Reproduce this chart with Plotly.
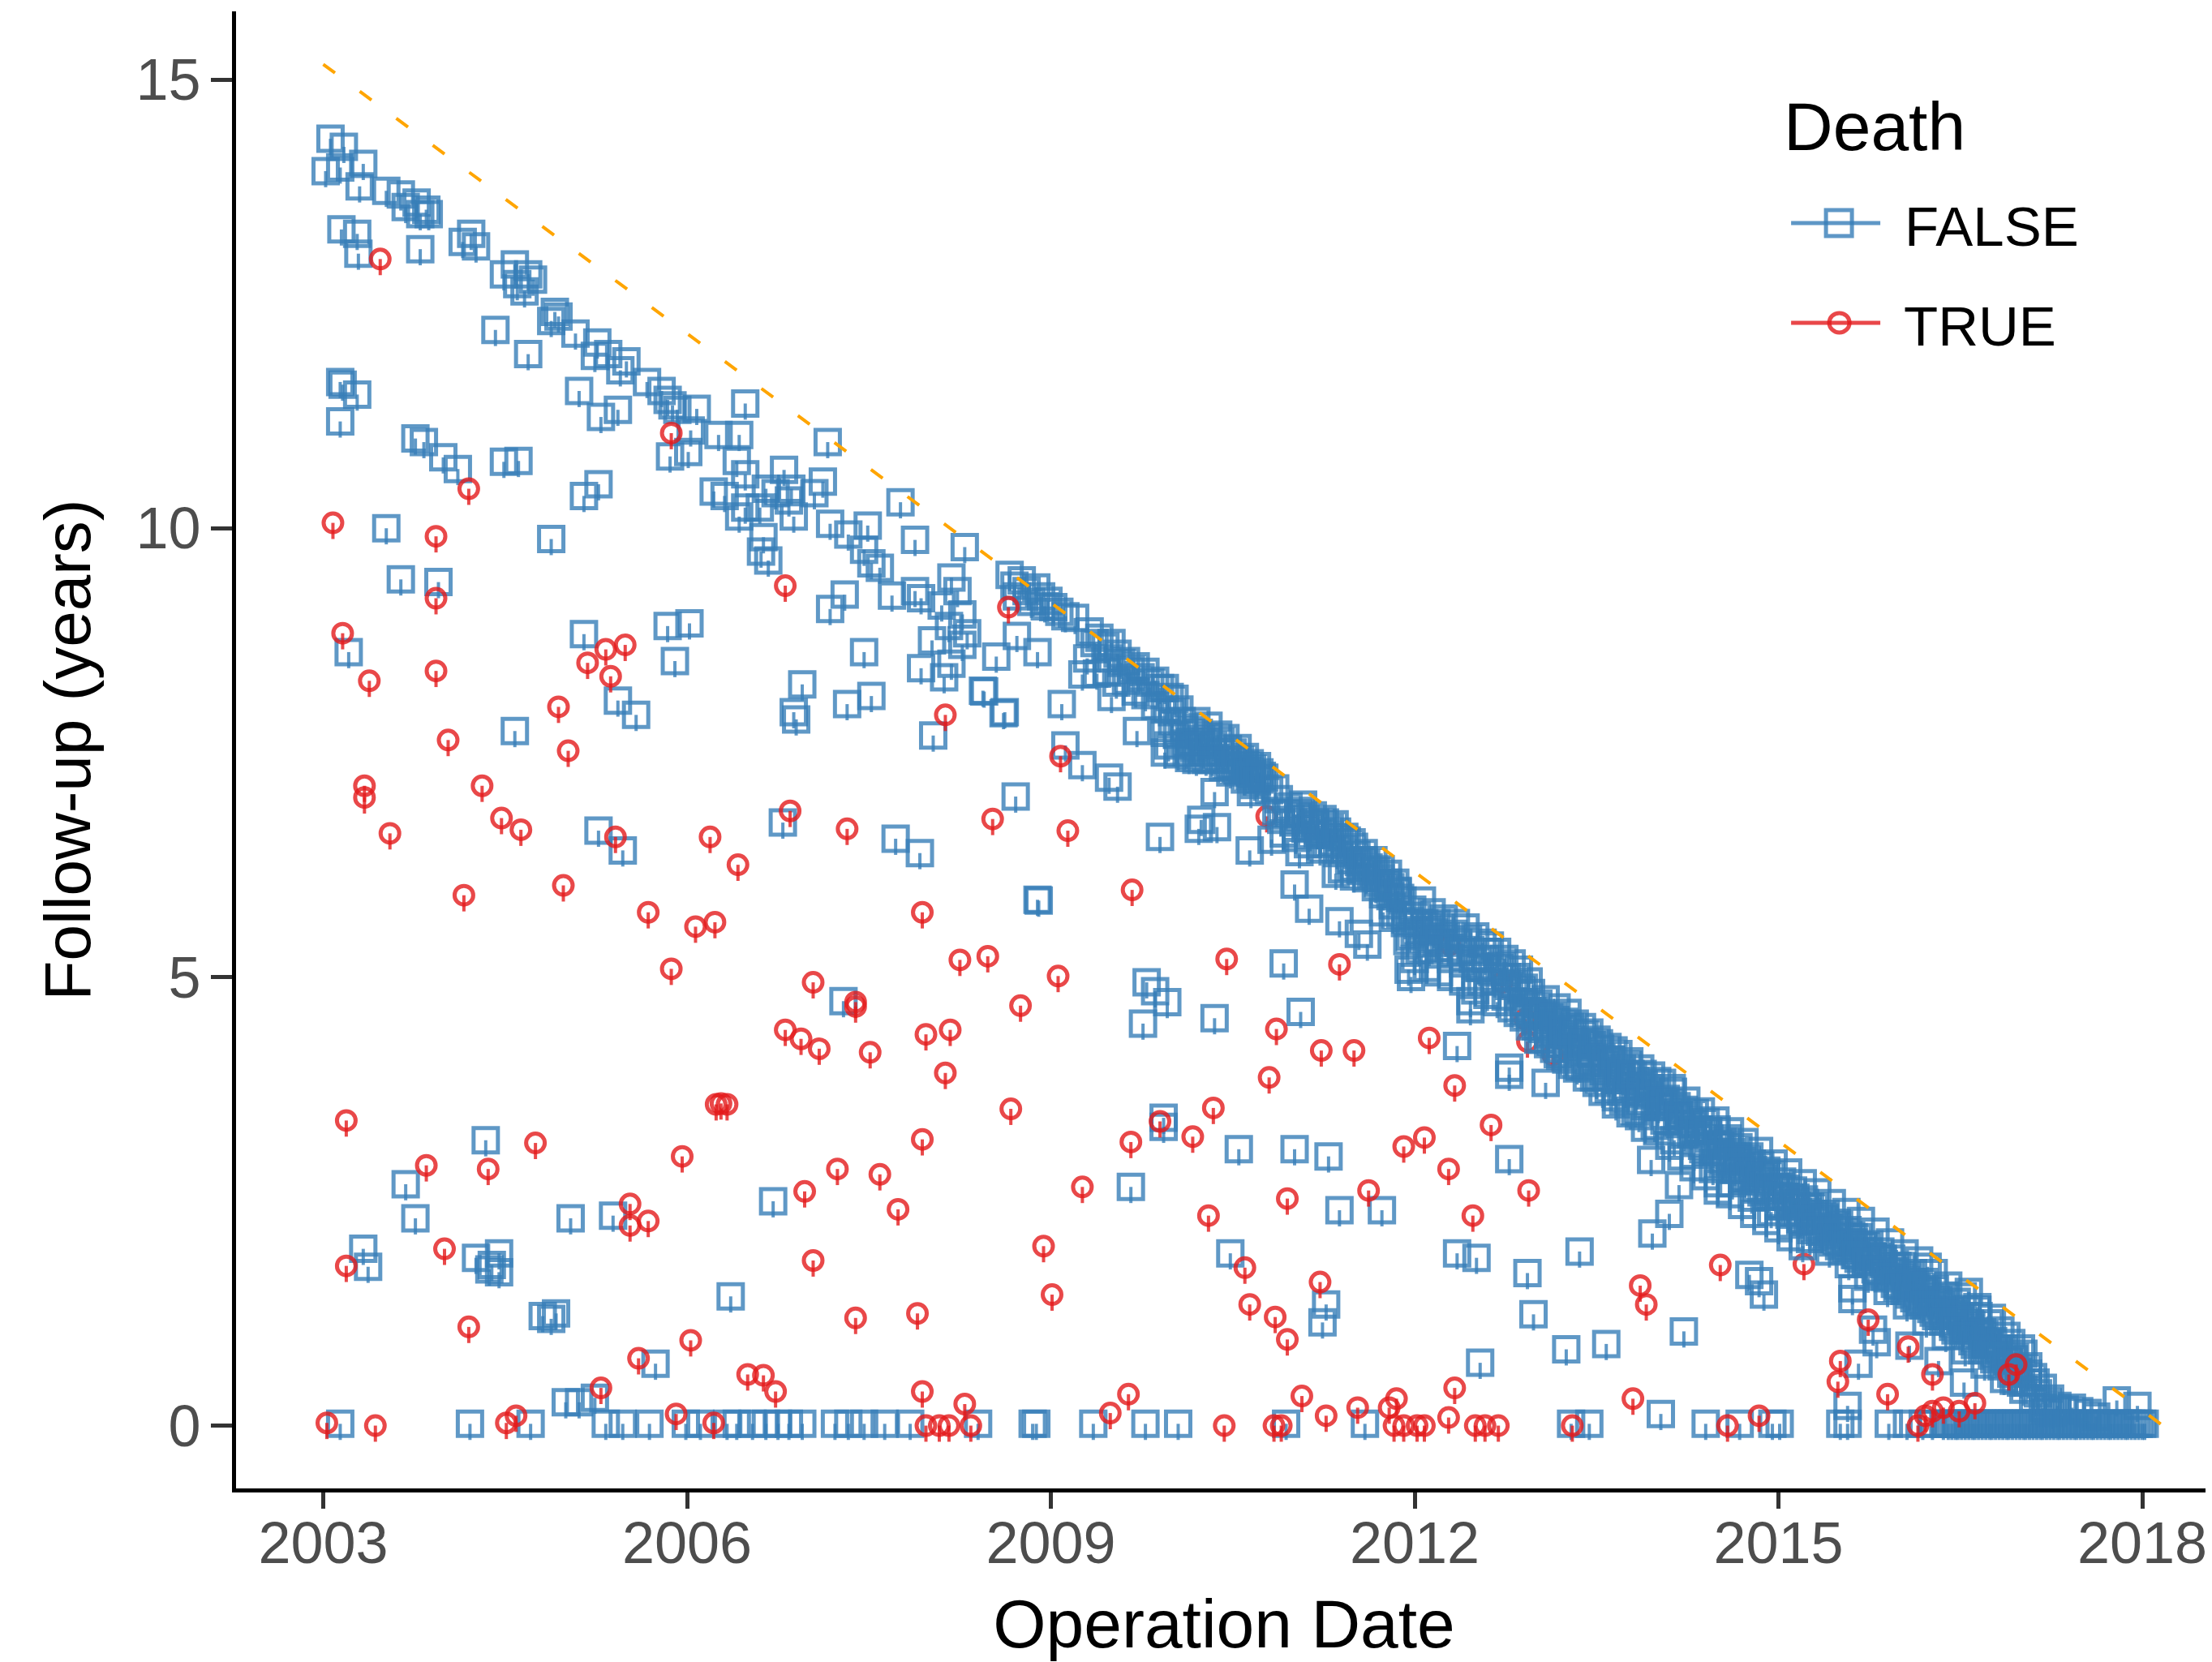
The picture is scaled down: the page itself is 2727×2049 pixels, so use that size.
import plotly.graph_objects as go

# ---- values (x = decimal year, y = follow-up in years) ----
x_ticks = [2003, 2006, 2009, 2012, 2015, 2018]
y_ticks = [0, 5, 10, 15]

limit_date = [2003.0, 2018.17]
limit_fu = [15.17, 0.0]

false_date_top = [2003.06,2003.17,2003.02,2003.14,2003.33,2003.30,2003.52,2003.64,2003.68,2003.77,2003.80,2003.87,2003.85,
 2003.15,2003.28,2003.29,2003.80,2004.15,2004.22,2004.26,2004.58,2004.49,2004.69,2004.73,2004.60,2004.66,2004.91,2004.94,2004.88,
 2004.42,2005.08,2004.69,2005.26,2005.35,2005.24,2005.50,2005.45,2005.67,2005.79,2005.84,2005.92,2005.88,2006.48,2006.08,
 2003.14,2003.16,2003.28,2003.14,2005.11,2005.43,2005.29,2003.76,2003.83,2003.99,2004.11,2004.49,2004.61,2005.15,2005.27,
 2005.86,2006.01,2006.03,2006.26,2006.43,2007.16,2006.80,2006.41,2006.48,2006.22,2006.31,2006.48,2006.43,2006.65,2006.73,2006.86,2006.84,
 2007.12,2007.05,2006.60,2006.88,2007.18,2007.76,2007.33,2007.49,2007.88,2008.29,2007.52,2007.59,2007.46,2006.63,2006.61,2006.67,
 2003.52,2004.88,2003.64,2003.95,2007.69,2007.88,2007.93,2008.18,2008.23,2008.10,2008.27,2007.18,2007.30,
 2008.16,2008.31,2008.27,2008.02,2008.18,2007.93,2008.12,2008.55,2008.72,2008.89,
 2005.15,2003.21,2005.84,2006.02,2005.90,2007.46,2006.95,2007.32,2007.52,2006.88,2006.90,2008.44,2008.62,2005.43,2005.58,2004.58,2008.03]
false_fu_top = [14.34,14.25,13.98,14.02,14.06,13.81,13.76,13.72,13.58,13.63,13.50,13.50,13.55,
 13.33,13.28,13.06,13.11,13.19,13.28,13.14,12.94,12.83,12.83,12.77,12.72,12.64,12.41,12.36,12.31,
 12.21,12.17,11.94,12.07,11.94,11.92,11.86,11.76,11.63,11.53,11.43,11.32,11.37,11.39,11.33,
 11.63,11.60,11.49,11.19,11.53,11.32,11.24,11.00,10.96,10.79,10.66,10.74,10.75,10.36,10.49,
 10.80,10.85,11.09,11.04,11.04,10.96,10.65,10.75,10.60,10.41,10.36,10.23,10.13,10.44,10.39,10.44,10.31,
 10.52,10.39,10.23,10.13,10.05,10.29,9.93,10.03,9.87,9.79,9.61,9.56,9.76,9.90,9.74,9.64,
 10.00,9.88,9.43,9.40,9.25,9.30,9.22,9.45,9.30,9.14,9.04,9.10,9.26,
 8.91,8.83,8.70,8.75,8.49,8.44,8.34,8.57,8.80,8.62,
 8.82,8.62,8.91,8.94,8.52,8.62,8.26,8.04,8.13,7.95,7.87,8.19,7.95,8.08,7.92,7.74,7.69]

false_date_low = [2005.27,2005.47,2006.79,2007.72,2007.92,2008.89,2007.29,2004.34,2003.68,2003.76,2003.33,2003.37,
 2004.26,2004.45,2004.39,2004.37,2004.45,2005.04,2005.39,2006.71,2006.36,2004.81,2004.92,2004.88,2005.74,2005.00,2005.11,2005.24,
 2008.71,2008.45,2008.61,2009.09,2009.12,2009.26,2009.26,2009.48,2009.55,2009.71,2009.50,2009.94,2009.90,2010.24,2010.22,2010.37,
 2010.64,2010.82,2011.05,2010.35,2010.65,2011.01,2011.13,2011.38,2011.61,2011.54,2011.35,2008.90,2010.92,2009.79,2009.86,2009.96,2009.76,
 2010.35,2011.06,2012.35,2011.95,2011.97,2012.46,2012.46,2009.93,2009.93,2010.55,2011.01,2011.29,2011.38,2011.73,2009.66,2010.48,2011.27,2011.24,
 2012.78,2012.78,2013.08,2012.78,2013.95,2014.18,2014.50,2014.10,2013.96,2013.36,2012.35,2012.51,2012.93,2014.76,2014.84,2014.88,2012.98,
 2014.22,2013.58,2013.25,2012.54,2014.03,2016.23,2016.57,2016.64,2017.79,2017.96,2015.66,2015.57,2016.53,2015.61,2015.61,2015.78,2015.81,2016.08,2016.32]
false_fu_low = [6.63,6.41,6.72,6.54,6.38,5.86,4.73,3.18,2.69,2.31,1.97,1.77,
 1.87,1.92,1.79,1.74,1.71,2.31,2.34,2.50,1.44,1.22,1.25,1.19,0.69,0.26,0.26,0.31,
 7.01,8.18,7.94,8.04,7.58,8.37,7.36,7.22,7.12,7.74,8.12,7.50,6.56,6.75,6.65,6.67,
 6.41,6.53,6.39,7.06,7.06,6.03,5.76,5.62,5.36,5.48,6.15,5.85,5.15,4.94,4.84,4.72,4.48,
 4.54,4.61,4.23,5.08,5.00,4.64,4.73,3.43,3.33,3.08,3.08,3.00,2.40,2.40,2.66,1.92,1.35,1.15,
 3.91,3.99,3.82,2.97,2.96,2.68,2.62,2.36,2.14,1.94,1.92,1.87,1.70,1.68,1.61,1.46,1.24,
 1.05,0.91,0.85,0.70,0.13,1.77,1.49,1.29,0.28,0.22,0.69,0.22,0.48,1.41,1.53,1.07,0.93,0.89,0.72]

false_date_band1 = [2008.66,2008.70,2008.72,2008.76,2008.80,2008.84,2008.88,2008.92,2008.95,2008.98,2009.02,2009.07,2009.12,2009.20,
 2009.32,2009.36,2009.40,2009.45,2009.50,2009.48,2009.55,2009.58,2009.62,2009.66,2009.70,2009.74,2009.78,2009.82,2009.86,2009.90,2009.94,2009.98,2010.02,2010.06,
 2009.94,2009.97,2010.00,2010.04,2010.08,2010.10,2010.12,2010.16,2010.18,2010.20,2010.24,2010.26,2010.30,2010.34,2010.38,2010.40,2010.44,2010.46,2010.50,2010.54,2010.50,2010.56,2010.60,2010.62,2010.64,2010.66,2010.70,2010.72,
 2010.85,2010.88,2010.90,2010.92,2010.96,2011.00,2011.02,2011.06,2011.10,2011.12,2011.16,2011.20,2011.22,2011.26,2011.30,2011.34,2011.38,2011.42,2011.46,2011.40,2011.50,2011.54,2011.58,2011.50,2011.60,2011.62,2011.66,2011.70,2011.72,2011.76,2011.78,2011.80,2011.84,2011.88,
 2011.90,2011.92,2011.94,2011.98,2012.00,2012.04,2012.06,2012.08,2012.10,2012.14,2012.16,2012.20,2012.24,2012.26,2012.30,2012.34,2012.36,2012.40,2012.42,2012.46,2012.50,2012.52,2012.56,2012.58,2012.62,2012.64,2012.68,2012.70,2012.74,2012.76,2012.80,2012.82,2012.86,2012.88]
false_fu_band1 = [9.48,9.36,9.24,9.42,9.30,9.18,9.34,9.24,9.13,9.19,9.12,9.07,9.02,9.00,
 8.85,8.72,8.78,8.68,8.72,8.55,8.60,8.50,8.52,8.42,8.46,8.34,8.40,8.28,8.30,8.22,8.22,8.12,8.10,7.98,
 7.72,7.58,7.95,7.70,7.85,7.60,7.50,7.75,7.55,7.85,7.65,7.50,7.80,7.58,7.70,7.50,7.66,7.54,7.50,7.55,7.35,7.42,7.45,7.30,7.38,7.26,7.35,7.20,
 7.10,6.98,6.75,6.60,6.90,6.72,6.55,6.85,6.65,6.48,6.80,6.60,6.42,6.72,6.58,6.70,6.55,6.42,6.30,6.20,6.45,6.28,6.38,6.12,6.10,6.22,6.30,6.05,6.20,6.02,6.15,5.90,6.05,5.88,
 5.85,5.60,5.40,5.75,5.50,5.30,5.85,5.60,5.42,5.72,5.50,5.25,5.65,5.45,5.20,5.60,5.38,5.15,5.55,5.30,5.45,5.10,5.38,5.20,5.35,5.05,5.28,5.10,5.20,5.00,5.15,4.92,5.08,4.85]

false_date_band2 = [2012.90,2012.93,2012.96,2012.99,2013.02,2013.05,2013.08,2013.11,2013.14,2013.17,2013.20,2013.23,2013.26,2013.29,2013.32,2013.35,2013.38,2013.41,2013.44,2013.47,
 2013.50,2013.53,2013.56,2013.59,2013.62,2013.65,2013.68,2013.71,2013.74,2013.77,2013.80,2013.83,2013.86,2013.89,2013.92,2013.95,2013.98,2014.01,2014.04,2014.07,
 2014.10,2014.13,2014.16,2014.19,2014.22,2014.25,2014.28,2014.31,2014.34,2014.37,2014.40,2014.43,2014.46,2014.49,2014.52,2014.55,2014.58,2014.61,2014.64,2014.67,
 2014.70,2014.73,2014.76,2014.79,2014.82,2014.85,2014.88,2014.91,2014.94,2014.97,2015.00,2015.03,2015.06,2015.09,2015.12,2015.15,2015.18,2015.21,2015.24,2015.27,
 2015.30,2015.33,2015.36,2015.39,2015.42,2015.45,2015.48,2015.51,2015.54,2015.57,2015.60,2015.63,2015.66,2015.69,2015.72,2015.75,2015.78,2015.81,2015.84,2015.87,
 2015.90,2015.93,2015.96,2015.99,2016.02,2016.05,2016.08,2016.11,2016.14,2016.17,2016.20,2016.23,2016.26,2016.29,2016.32,2016.35,2016.38,2016.41,2016.44,2016.47,
 2016.50,2016.53,2016.56,2016.59,2016.62,2016.65,2016.68,2016.71,2016.74,2016.77,2016.80,2016.83,2016.86,2016.89,2016.92,2016.95,2016.98,2017.02,2017.06,2017.10]
false_fu_band2 = [4.88,4.62,4.82,4.50,4.70,4.42,4.75,4.55,4.38,4.66,4.25,4.50,4.60,4.30,4.48,4.16,4.44,4.28,4.38,4.05,
 4.30,4.20,3.95,4.22,4.08,3.85,4.14,3.98,3.78,4.06,3.90,3.70,3.98,3.80,3.62,3.90,3.72,3.55,3.82,3.64,
 3.45,3.72,3.56,3.36,3.52,3.40,3.25,3.48,3.30,3.12,3.38,3.20,3.05,3.30,3.12,2.96,3.20,3.05,2.85,3.10,
 2.95,2.75,3.00,2.85,2.65,2.90,2.75,2.55,2.80,2.65,2.45,2.72,2.55,2.35,2.62,2.45,2.28,2.52,2.38,2.18,
 2.44,2.28,2.10,2.36,2.20,2.04,2.26,2.12,1.95,2.18,2.04,1.90,2.10,1.95,1.82,2.02,1.88,1.72,1.94,1.80,
 1.64,1.86,1.72,1.56,1.78,1.62,1.46,1.70,1.54,1.38,1.60,1.46,1.30,1.52,1.36,1.22,1.45,1.28,1.14,1.38,
 1.20,1.06,1.30,1.12,0.98,1.22,1.04,0.90,1.14,0.94,0.80,1.06,0.86,0.72,0.92,0.76,0.60,0.80,0.66,0.54]

false_date_band3 = [2012.92,2012.98,2013.04,2013.10,2013.16,2013.22,2013.28,2013.34,2013.40,2013.46,2013.52,2013.58,2013.64,2013.70,2013.76,2013.82,2013.88,2013.94,2014.00,2014.06,
 2014.12,2014.18,2014.24,2014.30,2014.36,2014.42,2014.48,2014.54,2014.60,2014.66,2014.72,2014.78,2014.84,2014.90,2014.96,2015.02,2015.08,2015.14,2015.20,2015.26,
 2015.32,2015.38,2015.44,2015.50,2015.56,2015.62,2015.68,2015.74,2015.80,2015.86,2015.92,2015.98,2016.04,2016.10,2016.16,2016.22,2016.28,2016.34,2016.40,2016.46,
 2016.52,2016.58,2016.64,2016.70,2016.76,2016.82,2016.88,2016.94,2017.00,2017.06,2017.12,2017.18,2017.24,2017.30,2017.36,2017.42,2017.48,2017.20,2017.55,2017.62]
false_fu_band3 = [4.72,4.58,4.60,4.46,4.52,4.36,4.44,4.22,4.36,4.14,4.26,4.04,4.18,3.88,4.02,3.84,3.92,3.68,3.84,3.58,
 3.76,3.46,3.62,3.36,3.50,3.28,3.40,3.16,3.28,3.00,3.16,2.92,3.06,2.84,2.92,2.66,2.82,2.54,2.70,2.44,
 2.60,2.30,2.48,2.24,2.38,2.10,2.28,1.94,2.16,1.86,2.04,1.78,1.92,1.60,1.84,1.50,1.70,1.40,1.56,1.24,
 1.44,1.14,1.32,1.02,1.20,0.86,1.00,0.74,0.86,0.58,0.48,0.42,0.30,0.22,0.18,0.20,0.16,0.16,0.14,0.10]

false_date_band4 = [2013.02,2013.06,2013.10,2013.14,2013.18,2013.22,2013.26,2013.30,2013.34,2013.38,2013.42,2013.46,2013.50,2013.54,2013.58,2013.62,2013.66,2013.70,2013.74,2013.78,
 2013.82,2013.86,2013.90,2013.94,2013.98,2014.02,2014.06,2014.10,2014.14,2014.18,2014.22,2014.26,2014.30,2014.34,2014.38,2014.42,2014.46,2014.50,2014.54,2014.58,
 2014.62,2014.66,2014.70,2014.74,2014.78,2014.82,2014.86,2014.90,2014.94,2014.98,2015.02,2015.06,2015.10,2015.14,2015.18,2015.22,2015.26,2015.30,2015.34,2015.38,
 2015.42,2015.46,2015.50,2015.54,2015.58,2015.62,2015.66,2015.70,2015.74,2015.78,2015.82,2015.86,2015.90,2015.94,2015.98,2016.02,2016.06,2016.10,2016.14,2016.18,
 2016.22,2016.26,2016.30,2016.34,2016.38,2016.42,2016.46,2016.50,2016.54,2016.58,2016.62,2016.66,2016.70,2016.74,2016.78,2016.82,2016.86,2016.90,2016.94,2016.98,
 2017.02,2017.06,2017.10,2017.14,2017.18,2017.22,2017.26,2017.30]
false_fu_band4 = [4.30,4.58,4.36,4.56,4.14,4.42,4.20,4.40,3.98,4.26,4.04,4.24,3.82,4.10,3.88,4.08,3.66,3.94,3.72,3.92,
 3.50,3.78,3.56,3.76,3.34,3.62,3.40,3.60,3.18,3.46,3.24,3.44,3.02,3.30,3.08,3.28,2.86,3.14,2.92,3.12,
 2.70,2.98,2.76,2.96,2.54,2.82,2.60,2.80,2.38,2.66,2.44,2.64,2.24,2.50,2.30,2.48,2.08,2.36,2.16,2.32,
 1.94,2.20,2.00,2.16,1.80,2.04,1.86,2.00,1.66,1.88,1.70,1.84,1.50,1.72,1.54,1.68,1.34,1.56,1.38,1.52,
 1.16,1.40,1.22,1.34,1.00,1.24,1.06,1.18,0.84,1.08,0.90,1.02,0.68,0.92,0.74,0.84,0.52,0.70,0.50,0.64,
 0.40,0.48,0.30,0.36,0.20,0.26,0.14,0.18]

false_date_band5 = [2009.30,2009.38,2009.46,2009.54,2009.62,2009.70,2009.78,2009.86,2009.94,2010.00,2010.10,2010.15,2010.22,2010.28,2010.36,2010.42,2010.48,2010.54,2010.60,2010.68,
 2010.74,2010.80,2010.86,2010.94,2011.04,2011.08,2011.14,2011.18,2011.24,2011.28,2011.32,2011.36,2011.44,2011.48,2011.56,2011.64,2011.68,2011.74,2011.82,2011.86,
 2011.96,2012.02,2012.12,2012.18,2012.22,2012.28,2012.32,2012.38,2012.44,2012.48,2012.54,2012.60,2012.66,2012.72,2012.78,2012.84,2012.90,2012.94,2013.00]
false_fu_band5 = [8.55,8.38,8.40,8.28,8.30,8.18,8.14,8.02,7.98,7.82,7.78,7.62,7.72,7.42,7.44,7.34,7.28,7.30,7.20,7.14,
 7.24,7.08,6.85,6.82,6.78,6.92,6.58,6.72,6.62,6.48,6.50,6.38,6.52,6.22,6.18,6.14,6.00,5.92,5.80,5.95,
 5.62,5.68,5.58,5.38,5.55,5.32,5.48,5.28,5.42,5.20,5.10,5.28,4.95,5.12,4.90,5.00,4.72,4.95,4.62]

false_date_band6 = [2010.05,2010.14,2010.20,2010.28,2010.33,2010.40,2010.46,2010.52,2010.58,2010.30,2010.22,
 2010.60,2010.66,2010.72,2010.76,2010.70,2010.64,
 2011.04,2011.10,2011.18,2011.24,2011.30,2011.36,2011.42,2011.48,2011.14,
 2011.52,2011.60,2011.68,2011.72,2011.80,2011.86,2011.58,2011.78,
 2011.74,2011.82,2011.88,2011.96,2012.04,2012.10,2012.18,2012.12,2012.20,
 2012.00,2012.10,2012.20,2012.30,2012.40,2012.50,2012.55,2012.60,2012.68,2012.75,2012.80,2012.85,2012.90,2012.95,2013.00,
 2013.05,2013.10,2013.15,2013.20,2013.25,2013.30,2013.36,2013.42,2013.48,2013.55,2013.60,2013.66,2013.72,2013.78,2013.85,
 2013.90,2014.00,2014.10,2014.20,2014.30,2014.40,2014.50,2014.60,2014.70,2014.80,2014.90,2015.00,2015.10,2015.20]
false_fu_band6 = [7.48,7.44,7.42,7.62,7.42,7.62,7.36,7.42,7.32,7.68,7.58,
 7.36,7.32,7.28,7.22,7.18,7.24,
 6.82,6.76,6.70,6.76,6.66,6.62,6.56,6.50,6.68,
 6.36,6.26,6.18,6.10,6.00,5.96,6.30,6.05,
 5.72,5.66,5.70,5.45,5.52,5.52,5.60,5.30,5.42,
 5.20,5.10,5.05,5.00,4.95,4.85,4.95,4.80,4.72,4.78,4.65,4.60,4.55,4.45,4.45,
 4.30,4.25,4.20,4.12,4.08,4.02,4.00,3.88,3.88,3.72,3.75,3.58,3.62,3.48,3.45,
 3.32,3.28,3.12,3.00,2.88,2.78,2.70,2.58,2.46,2.36,2.28,2.20,2.10,2.00]

false_date_band7 = [2014.52,2014.60,2014.68,2014.76,2014.84,2014.92,2015.00,2015.08,2015.16,2015.24,2015.32,2015.40,2015.48,2015.56,2015.64,2015.72,
 2015.80,2015.88,2015.96,2016.04,2016.12,2016.20,2016.28,2016.36,2016.44,2016.52,2016.60,2016.68,2016.76,2016.84,2016.92,2017.00]
false_fu_band7 = [3.02,2.94,2.88,2.78,2.72,2.62,2.56,2.47,2.38,2.30,2.22,2.14,2.06,1.98,1.90,1.82,
 1.74,1.66,1.58,1.50,1.42,1.34,1.26,1.16,1.10,1.00,0.94,0.84,0.78,0.66,0.58,0.48]

false_date_zero = [2003.14,2004.21,2004.71,2005.33,2005.47,2005.69,2005.99,2006.11,2006.33,2006.41,2006.54,2006.65,2006.75,2006.84,2006.95,
 2007.22,2007.33,2007.46,2007.63,2007.84,2008.40,2008.85,2008.88,2009.35,2009.78,2010.05,2010.94,2011.59,2013.29,2013.44,2014.40,2014.68,2014.95,
 2015.01,2015.51,2015.57,2015.91,2016.06,2016.19,2016.27,2016.36,2016.40,2016.43,2016.46,2016.48,2016.51,2016.54,2016.57,2016.60,2016.62,
 2016.65,2016.68,2016.71,2016.74,2016.76,2016.79,2016.82,2016.85,2016.88,2016.90,2016.93,2016.96,2016.99,2017.02,2017.04,2017.07,2017.10,
 2017.13,2017.16,2017.18,2017.21,2017.24,2017.27,2017.30,2017.32,2017.35,2017.38,2017.41,2017.44,2017.46,2017.49,2017.52,2017.55,2017.58,
 2017.60,2017.63,2017.66,2017.69,2017.72,2017.74,2017.77,2017.80,2017.83,2017.86,2017.88,2017.91,2017.94,2017.97,2018.00,2018.02]
false_fu_zero = [0.02,0.02,0.02,0.02,0.02,0.02,0.02,0.02,0.02,0.02,0.02,0.02,0.02,0.02,0.02,
 0.02,0.02,0.02,0.02,0.02,0.02,0.02,0.02,0.02,0.02,0.02,0.02,0.02,0.02,0.02,0.02,0.02,0.02,
 0.02,0.02,0.02,0.02,0.02,0.02,0.02,0.02,0.02,0.02,0.02,0.02,0.02,0.02,0.02,0.02,0.02,
 0.02,0.02,0.02,0.02,0.02,0.02,0.02,0.02,0.02,0.02,0.02,0.02,0.02,0.02,0.02,0.02,0.02,
 0.02,0.02,0.02,0.02,0.02,0.02,0.02,0.02,0.02,0.02,0.02,0.02,0.02,0.02,0.02,0.02,0.02,
 0.02,0.02,0.02,0.02,0.02,0.02,0.02,0.02,0.02,0.02,0.02,0.02,0.02,0.02,0.02,0.02]

true_date_a = [2003.47,2005.87,2004.20,2003.08,2003.93,2003.93,2006.81,2008.65,2003.16,2003.38,2003.93,2005.33,2005.49,2005.18,2005.37,2004.94,2008.13,
 2004.47,2004.63,2005.41,2003.55,2003.34,2003.34,2004.03,2004.31,2005.02,2006.85,2006.19,2006.42,2007.32,2008.52,2004.98,2004.16,2005.68,2006.07,2006.23,2005.87,
 2007.94,2008.25,2008.48,2007.04,2008.75,2007.39,2007.39,2006.81,2006.94,2007.09,2007.51,2007.97,2008.17,2008.13,2008.67,2006.24,2006.33,2006.28,2003.19,2007.94,2004.75,2005.96,
 2003.85,2004.36,2007.24,2007.59,2006.97,2007.74,2005.53,2005.53,2005.68,2004.00,2003.19,2007.04,2008.94,2004.20,2007.39,2007.90,2006.03,2005.60,2005.29,2006.50,2006.63,2006.73,2007.94,2008.29,
 2004.59,2004.51,2003.03,2003.43,2005.91,2006.22,2007.97,2008.08,2008.16,2008.34]
true_fu_a = [13.00,11.06,10.44,10.06,9.91,9.22,9.36,9.12,8.83,8.30,8.41,8.65,8.70,8.50,8.35,8.01,7.92,
 6.77,6.64,6.56,6.60,7.13,7.00,7.64,7.13,7.52,6.85,6.56,6.25,6.65,6.76,6.02,5.91,5.72,5.56,5.61,5.09,
 5.72,5.19,5.23,4.94,4.68,4.72,4.67,4.41,4.31,4.20,4.16,4.36,4.41,3.93,3.53,3.58,3.58,3.59,3.40,3.19,3.15,3.00,
 2.90,2.86,2.86,2.80,2.61,2.41,2.47,2.23,2.28,1.97,1.78,1.84,2.00,1.10,1.20,1.25,0.95,0.75,0.42,0.57,0.56,0.38,0.38,0.24,
 0.11,0.03,0.03,0.00,0.13,0.03,0.00,0.00,0.00,0.00]

true_date_b = [2009.08,2009.14,2009.67,2009.06,2010.45,2011.38,2010.86,2011.23,2011.50,2010.80,2010.34,2012.12,2012.33,2012.63,2012.08,2011.91,2012.28,2012.94,2012.48,
 2011.62,2010.95,2010.30,2009.26,2009.66,2009.90,2010.17,2010.60,2011.22,2010.64,2010.85,2010.95,2009.01,2013.86,2013.91,2014.52,2015.74,2016.07,2015.49,2015.51,2015.90,
 2012.33,2013.80,2011.07,2009.64,2009.49,2011.53,2011.79,2011.85,2011.27,2012.28,2014.84,2016.27,2016.62,2016.36,2016.96,2016.90,2016.21,
 2010.43,2010.84,2010.90,2011.83,2011.91,2012.02,2012.08,2012.50,2012.58,2012.69,2013.30,2014.58,2016.15,
 2016.49,2016.27]
true_fu_b = [7.46,6.63,5.97,5.01,5.20,5.14,4.42,4.18,4.18,3.88,3.54,4.32,3.79,3.35,3.21,3.11,2.86,2.62,2.34,
 2.62,2.53,2.34,2.66,3.16,3.39,3.22,1.76,1.60,1.35,1.21,0.96,1.46,1.56,1.35,1.79,1.18,0.88,0.49,0.72,0.35,
 0.42,0.30,0.33,0.35,0.14,0.20,0.20,0.30,0.11,0.09,0.11,0.57,0.25,0.20,0.68,0.57,0.11,
 0.00,0.00,0.00,0.00,0.00,0.00,0.00,0.00,0.00,0.00,0.00,0.00,0.00,
 0.16,0.16]

# deaths that sit inside the dense band, mostly hidden by the squares
true_date_under = [2010.78,2012.29,2012.72,2012.91,2012.93,2013.14,2015.21,2016.98]
true_fu_under = [6.79,5.36,4.94,4.53,4.28,4.13,1.80,0.60]

false_dates = (false_date_top + false_date_low + false_date_band1 + false_date_band5 + false_date_band6
               + false_date_band2 + false_date_band3 + false_date_band4 + false_date_band7 + false_date_zero)
false_fu = (false_fu_top + false_fu_low + false_fu_band1 + false_fu_band5 + false_fu_band6
            + false_fu_band2 + false_fu_band3 + false_fu_band4 + false_fu_band7 + false_fu_zero)
true_dates = true_date_a + true_date_b
true_fu = true_fu_a + true_fu_b

BLUE = "#377EB8"
RED = "#E41A1C"
FONT = "Liberation Sans"

# the page adds an 8 px body margin, so the figure is 8 px smaller than the window
FIG_W, FIG_H = 2719, 2041
LEFT, RIGHT, TOP, BOTTOM = 290.5, 2727, 14, 1835.5

def px(x):
    return (x - LEFT) / (RIGHT - LEFT)

def py(y):
    return (BOTTOM - y) / (BOTTOM - TOP)

fig = go.Figure()

fig.add_trace(go.Scatter(x=true_date_under, y=true_fu_under, mode="markers", name="TRUE", showlegend=False,
    marker=dict(symbol="circle-open", size=23, color=RED, opacity=0.8, line=dict(width=5, color=RED)),
    error_y=dict(type="constant", symmetric=False, value=0, valueminus=0.18, width=0, thickness=4, color="rgba(228,26,28,0.8)")))
fig.add_trace(go.Scatter(x=false_dates, y=false_fu, mode="markers", name="FALSE", showlegend=False,
    marker=dict(symbol="square-open", size=30, color=BLUE, opacity=0.8, line=dict(width=5, color=BLUE)),
    error_y=dict(type="constant", symmetric=False, value=0, valueminus=0.18, width=0, thickness=4, color="rgba(55,126,184,0.8)")))
fig.add_trace(go.Scatter(x=true_dates, y=true_fu, mode="markers", name="TRUE", showlegend=False,
    marker=dict(symbol="circle-open", size=23, color=RED, opacity=0.8, line=dict(width=5, color=RED)),
    error_y=dict(type="constant", symmetric=False, value=0, valueminus=0.18, width=0, thickness=4, color="rgba(228,26,28,0.8)")))
fig.add_trace(go.Scatter(x=limit_date, y=limit_fu, mode="lines", showlegend=False, hoverinfo="skip",
    line=dict(color="#FFA500", width=4, dash="18px,38px")))

# legend drawn to the reference's proportions (Plotly caps legend markers at 16 px)
def key_line(y, colour):
    return dict(type="line", xref="paper", yref="paper", x0=px(2208), x1=px(2318), y0=py(y), y1=py(y),
                line=dict(color=colour, width=5), opacity=0.8)

shapes = [
    key_line(275, BLUE),
    dict(type="rect", xref="paper", yref="paper", x0=px(2251), x1=px(2283), y0=py(259), y1=py(291),
         line=dict(color=BLUE, width=5), opacity=0.8),
    key_line(398, RED),
    dict(type="circle", xref="paper", yref="paper", x0=px(2255), x1=px(2280), y0=py(386), y1=py(410),
         line=dict(color=RED, width=5), opacity=0.8),
]
annotations = [
    dict(text="Death", xref="paper", yref="paper", x=px(2197), y=py(156), xanchor="left", yanchor="middle",
         showarrow=False, font=dict(family=FONT, size=84, color="black")),
    dict(text="FALSE", xref="paper", yref="paper", x=px(2346), y=py(280), xanchor="left", yanchor="middle",
         showarrow=False, font=dict(family=FONT, size=69, color="black")),
    dict(text="TRUE", xref="paper", yref="paper", x=px(2345), y=py(403), xanchor="left", yanchor="middle",
         showarrow=False, font=dict(family=FONT, size=69, color="black")),
]

fig.update_layout(
    width=FIG_W, height=FIG_H,
    margin=dict(l=LEFT - 8, r=0, t=TOP - 8, b=FIG_H - (BOTTOM - 8), autoexpand=False),
    paper_bgcolor="white", plot_bgcolor="white",
    font=dict(family=FONT, color="black"),
    showlegend=False,
    shapes=shapes,
    annotations=annotations,
    xaxis=dict(range=[2002.281, 2018.575], tickvals=x_ticks, ticktext=[str(v) for v in x_ticks],
        showgrid=False, zeroline=False, showline=True, linecolor="black", linewidth=5,
        ticks="outside", ticklen=20, tickwidth=5, tickcolor="#333333",
        tickfont=dict(family=FONT, size=72, color="#4D4D4D"),
        ticklabelstandoff=-19,
        title=dict(text="Operation Date", font=dict(family=FONT, size=84, color="black"), standoff=63)),
    yaxis=dict(range=[-0.700, 15.76], tickvals=y_ticks, ticktext=[str(v) for v in y_ticks],
        showgrid=False, zeroline=False, showline=True, linecolor="black", linewidth=5,
        ticks="outside", ticklen=26, tickwidth=5, tickcolor="#333333",
        tickfont=dict(family=FONT, size=72, color="#4D4D4D"),
        ticklabelstandoff=-2,
        title=dict(text="Follow-up (years)", font=dict(family=FONT, size=80, color="black"), standoff=31)),
)

fig.write_html("out.html")
